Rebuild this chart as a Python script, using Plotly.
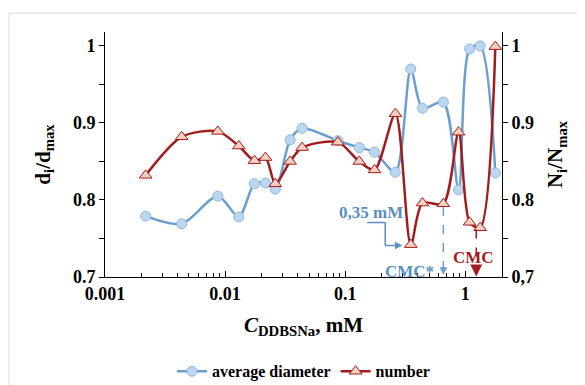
import plotly.graph_objects as go
import math

# ---------------- data ----------------
conc = [0.00218, 0.00435, 0.0087, 0.013, 0.01755, 0.0217, 0.0262, 0.0348, 0.0438, 0.0869,
        0.131, 0.1755, 0.262, 0.352, 0.44, 0.657, 0.88, 1.087, 1.33, 1.78]
diam = [0.779, 0.769, 0.805, 0.778, 0.821, 0.822, 0.814, 0.878, 0.893, 0.877,
        0.868, 0.862, 0.836, 0.970, 0.919, 0.927, 0.813, 0.996, 1.000, 0.835]
number = [0.832, 0.882, 0.889, 0.870, 0.851, 0.855, 0.821, 0.850, 0.868, 0.875,
          0.850, 0.839, 0.912, 0.742, 0.796, 0.795, 0.888, 0.771, 0.764, 0.999]

x_tickvals = [0.001, 0.01, 0.1, 1]
x_ticktext = ["0.001", "0.01", "0.1", "1"]
y_tickvals = [0.7, 0.75, 0.8, 0.85, 0.9, 0.95, 1.0]
y_ticktext_left = ["0.7", "", "0.8", "", "0.9", "", "1"]
y_ticktext_right = ["0,7", "", "0.8", "", "0.9", "", "1"]

cmc_star = 0.657
cmc = 1.235
conc_035 = 0.352

BLUE = "#6a9fcf"
BLUE_FILL = "#bcd6ef"
BLUE_TXT = "#5b8fbf"
RED = "#a11d1d"
RED_FILL = "#f7cfc0"
FONT = "Liberation Serif"

fig = go.Figure()
fig.add_trace(go.Scatter(
    x=conc, y=diam, name="average diameter", mode="lines+markers",
    line=dict(color=BLUE, width=2.5, shape="spline", smoothing=0.8),
    marker=dict(symbol="circle", size=10, color=BLUE_FILL, line=dict(color="#8fb8e0", width=1)),
    cliponaxis=False,
))
fig.add_trace(go.Scatter(
    x=conc, y=number, name="number", mode="lines+markers", yaxis="y2",
    line=dict(color=RED, width=2.5, shape="spline", smoothing=0.8),
    marker=dict(symbol="triangle-up", size=11, color=RED_FILL, line=dict(color=RED, width=1)),
    cliponaxis=False,
))

tickfont = dict(family=FONT, size=18, color="black", weight="bold")
minor_x = [m * 10 ** e for e in range(-3, 1) for m in range(2, 10)] + [2]

# page body has an 8px margin, so the figure is 8px smaller and margins shifted
fig.update_layout(
    width=577, height=377,
    margin=dict(l=97, r=83, t=24, b=107.5, autoexpand=False),
    paper_bgcolor="white", plot_bgcolor="white",
    font=dict(family=FONT, color="black"),
    showlegend=True,
    legend=dict(orientation="h", x=0.5, xanchor="center", y=-0.385, yanchor="middle",
                font=dict(family=FONT, size=16, color="black", weight="bold"),
                itemwidth=30, tracegroupgap=0),
    xaxis=dict(
        type="log", range=[-3, 0.306], showgrid=False, zeroline=False, automargin=False,
        showline=True, linecolor="black", linewidth=1,
        tickmode="array", tickvals=x_tickvals, ticktext=x_ticktext,
        ticks="inside", ticklen=6, tickcolor="black", tickfont=tickfont,
        minor=dict(tickmode="array", tickvals=minor_x, ticks="inside", ticklen=4, tickcolor="black", showgrid=False),
        title=dict(text="<i>C</i><sub>DDBSNa</sub>, mM", font=dict(family=FONT, size=21, weight="bold"), standoff=14),
    ),
    yaxis=dict(
        range=[0.7, 1.018], showgrid=False, zeroline=False, automargin=False,
        showline=True, linecolor="black", linewidth=1,
        tickmode="array", tickvals=y_tickvals, ticktext=y_ticktext_left,
        ticks="outside", ticklen=5, tickcolor="black", tickfont=tickfont,
        title=dict(text="d<sub>i</sub>/d<sub>max</sub>", font=dict(family=FONT, size=21, weight="bold"), standoff=16),
    ),
    yaxis2=dict(
        overlaying="y", side="right", range=[0.7, 1.018], showgrid=False, zeroline=False, automargin=False,
        showline=True, linecolor="black", linewidth=1,
        tickmode="array", tickvals=y_tickvals, ticktext=y_ticktext_right,
        ticks="outside", ticklen=5, tickcolor="black", tickfont=tickfont,
        title=dict(text="N<sub>i</sub>/N<sub>max</sub>", font=dict(family=FONT, size=21, weight="bold"), standoff=14),
    ),
)

L = math.log10
annfont = dict(family=FONT, size=17, weight="bold")

# frame border (light gray)
fig.add_shape(type="line", xref="paper", yref="paper", x0=-0.242, x1=1.25, y0=1.077, y1=1.077,
              line=dict(color="#d9d9d9", width=1))
fig.add_shape(type="line", xref="paper", yref="paper", x0=-0.242, x1=-0.242, y0=1.077, y1=-0.5,
              line=dict(color="#d9d9d9", width=1))

# "0,35 mM" label with elbow arrow
fig.add_annotation(x=L(0.165), y=0.7837, text="0,35 mM", showarrow=False,
                   font=dict(annfont, color=BLUE_TXT))
fig.add_shape(type="line", x0=0.1525, x1=0.2155, y0=0.7707, y1=0.7707, line=dict(color=BLUE_TXT, width=1.5))
fig.add_shape(type="line", x0=0.2155, x1=0.2155, y0=0.7707, y1=0.741, line=dict(color=BLUE_TXT, width=1.5))
fig.add_annotation(x=L(0.30), y=0.741, ax=-19, ay=0, text="", showarrow=True,
                   arrowhead=2, arrowsize=1, arrowwidth=1.5, arrowcolor=BLUE_TXT)

# CMC* dashed arrow
fig.add_shape(type="line", x0=cmc_star, x1=cmc_star, y0=0.791, y1=0.712,
              line=dict(color=BLUE, width=1.5, dash="dash"))
fig.add_annotation(x=L(cmc_star), y=0.703, ax=0, ay=-10, text="", showarrow=True,
                   arrowhead=2, arrowsize=1, arrowwidth=1.5, arrowcolor=BLUE)
fig.add_annotation(x=L(0.341), y=0.7073, text="CMC*", showarrow=False,
                   font=dict(annfont, color=BLUE_TXT))

# CMC dashed arrow
fig.add_shape(type="line", x0=cmc, x1=cmc, y0=0.7617, y1=0.712,
              line=dict(color=RED, width=1.5, dash="dash"))
fig.add_annotation(x=L(cmc), y=0.7005, ax=0, ay=-10, text="", showarrow=True,
                   arrowhead=2, arrowsize=1.6, arrowwidth=1.5, arrowcolor=RED)
fig.add_annotation(x=L(1.17), y=0.7254, text="CMC", showarrow=False,
                   font=dict(annfont, color=RED))

fig.write_html("out.html")
